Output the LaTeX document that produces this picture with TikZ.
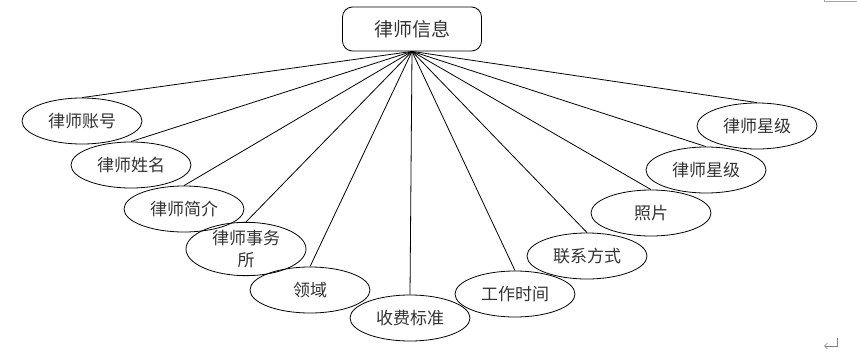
\documentclass[tikz,border=0pt]{standalone}
\usepackage{fontspec}
\newfontfamily\cjk{Noto Sans CJK SC}
\usetikzlibrary{shapes.geometric,arrows.meta}
\tikzset{
  attr/.style={draw,ellipse,minimum width=120pt,minimum height=46pt,inner sep=0pt,
    font=\cjk\fontsize{17}{22}\selectfont,text=black!80,align=center},
  entity/.style={draw,rounded corners=10pt,minimum width=139pt,minimum height=44pt,
    font=\cjk\fontsize{19}{22}\selectfont,text=black!80},
}
\begin{document}
\begin{tikzpicture}[x=1pt,y=-1pt,line width=0.8pt]
  \useasboundingbox (0,0) rectangle (857,353);
  % entity
  \node[entity] (info) at (412,29) {律师信息};
  % attributes, left to right
  \foreach \n/\x/\y/\t in {acct/82/121/律师账号, name/131/165/律师姓名, intro/184/209/律师简介,
      field/310/290/领域, fee/410/318/收费标准, hours/515/294/工作时间, contact/587/256/联系方式,
      photo/651/213/照片, starB/706/170/律师星级, starA/757/126/律师星级}
    { \node[attr] (\n) at (\x,\y) {\t};
      \draw (info.south) -- (\n.north); }
  \node[attr] (firm) at (246,249) {律师事务\\所};
  \draw (info.south) -- (firm.north);
  % page marks
  \draw[gray!70,line width=0.6pt] (824,0) -- (824,1.5) -- (857,1.5);
  \draw[gray,line width=0.6pt,-{Straight Barb[length=3pt]}] (837,338) -- (837,346) -- (824,346);
\end{tikzpicture}
\end{document}
